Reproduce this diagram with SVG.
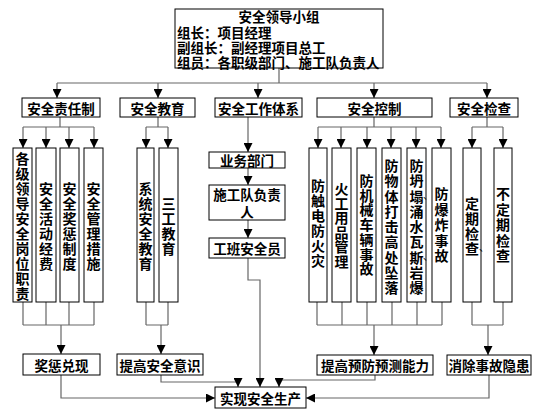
<svg xmlns="http://www.w3.org/2000/svg" width="554" height="419" viewBox="0 0 554 419">
<style>
.box{fill:#fff;stroke:#000;stroke-width:1}
.t{font-family:"Noto Sans CJK SC","Noto Sans CJK JP",sans-serif;font-size:13.5px;font-weight:bold;fill:#000}
.c{text-anchor:middle;dominant-baseline:central}
.v{font-family:"Noto Sans CJK SC","Noto Sans CJK JP",sans-serif;font-size:14px;font-weight:bold;fill:#000;text-anchor:middle;dominant-baseline:central}
.ln{fill:none;stroke:#666;stroke-width:1.2}
.p{font-family:"Noto Sans CJK SC",sans-serif;font-size:10px;fill:#000}
</style>
<defs>
<marker id="ah" markerUnits="userSpaceOnUse" markerWidth="9" markerHeight="9" refX="8" refY="4" orient="auto" viewBox="0 0 8 8">
<path d="M0,0 L8,4 L0,8 z" fill="#000"/>
</marker>
</defs>

<g id="connectors">
<path class="ln" d="M279,68 V83 M57,83 H487"/>
<path class="ln" marker-end="url(#ah)" d="M57,83 V98"/>
<path class="ln" marker-end="url(#ah)" d="M158,83 V98"/>
<path class="ln" marker-end="url(#ah)" d="M258,83 V98"/>
<path class="ln" marker-end="url(#ah)" d="M374,83 V98"/>
<path class="ln" marker-end="url(#ah)" d="M487,83 V98"/>

<path class="ln" d="M60,117 V127 M23,127 H94"/>
<path class="ln" marker-end="url(#ah)" d="M23,127 V148"/>
<path class="ln" marker-end="url(#ah)" d="M46,127 V148"/>
<path class="ln" marker-end="url(#ah)" d="M69,127 V148"/>
<path class="ln" marker-end="url(#ah)" d="M94,127 V148"/>
<path class="ln" d="M23,302 V325 M46,302 V325 M69,302 V325 M94,302 V325 M23,325 H94"/>
<path class="ln" marker-end="url(#ah)" d="M61,325 V354"/>
<path class="ln" marker-end="url(#ah)" d="M61,375 V398 H215"/>

<path class="ln" d="M158,117 V127 M146,127 H168"/>
<path class="ln" marker-end="url(#ah)" d="M146,127 V148"/>
<path class="ln" marker-end="url(#ah)" d="M168,127 V148"/>
<path class="ln" d="M146,302 V325 M168,302 V325 M146,325 H168"/>
<path class="ln" marker-end="url(#ah)" d="M161,325 V354"/>
<path class="ln" marker-end="url(#ah)" d="M161,375 V382 H238 V387"/>

<path class="ln" marker-end="url(#ah)" d="M248,117 V152"/>
<path class="ln" marker-end="url(#ah)" d="M248,168 V185"/>
<path class="ln" marker-end="url(#ah)" d="M248,220 V238"/>
<path class="ln" marker-end="url(#ah)" d="M248,258 V280 H260 V387"/>

<path class="ln" d="M374,117 V127 M318,127 H441"/>
<path class="ln" marker-end="url(#ah)" d="M318,127 V148"/>
<path class="ln" marker-end="url(#ah)" d="M341,127 V148"/>
<path class="ln" marker-end="url(#ah)" d="M367,127 V148"/>
<path class="ln" marker-end="url(#ah)" d="M391,127 V148"/>
<path class="ln" marker-end="url(#ah)" d="M416,127 V148"/>
<path class="ln" marker-end="url(#ah)" d="M441,127 V148"/>
<path class="ln" d="M317,302 V325 M342,302 V325 M367,302 V325 M392,302 V325 M417,302 V325 M442,302 V325 M317,325 H442"/>
<path class="ln" marker-end="url(#ah)" d="M374,325 V355"/>
<path class="ln" marker-end="url(#ah)" d="M375,375 V380 H279 V387"/>

<path class="ln" d="M487,117 V127 M472,127 H503"/>
<path class="ln" marker-end="url(#ah)" d="M472,127 V148"/>
<path class="ln" marker-end="url(#ah)" d="M503,127 V148"/>
<path class="ln" d="M472,302 V325 M503,302 V325 M472,325 H503"/>
<path class="ln" marker-end="url(#ah)" d="M488,325 V355"/>
<path class="ln" marker-end="url(#ah)" d="M489,375 V398 H306"/>
</g>

<g id="leader">
<rect class="box" x="175" y="9" width="208" height="59"/>
<text class="t c" x="279" y="16">安全领导小组</text>
<text class="t" x="177" y="32" dominant-baseline="central">组长：项目经理</text>
<text class="t" x="177" y="47" dominant-baseline="central">副组长：副经理项目总工</text>
<text class="t" x="177" y="62" dominant-baseline="central">组员：各职级部门、施工队负责人</text>
</g>

<g id="zerenzhi"><rect class="box" x="22" y="98" width="78" height="19"/><text class="t c" x="61" y="107.5">安全责任制</text></g>
<g id="jiaoyu"><rect class="box" x="120" y="98" width="75" height="19"/><text class="t c" x="157.5" y="107.5">安全教育</text></g>
<g id="tixi"><rect class="box" x="215" y="98" width="87" height="19"/><text class="t c" x="258.5" y="107.5">安全工作体系</text></g>
<g id="kongzhi"><rect class="box" x="317" y="98" width="115" height="19"/><text class="t c" x="374.5" y="107.5">安全控制</text></g>
<g id="jiancha"><rect class="box" x="450" y="98" width="68" height="19"/><text class="t c" x="484" y="107.5">安全检查</text></g>

<g id="v1"><rect class="box" x="13" y="148" width="19" height="154"/>
<text class="v"><tspan x="22.5" y="157.5">各</tspan><tspan x="22.5" y="172.5">级</tspan><tspan x="22.5" y="187.5">领</tspan><tspan x="22.5" y="202.5">导</tspan><tspan x="22.5" y="217.5">安</tspan><tspan x="22.5" y="232.5">全</tspan><tspan x="22.5" y="247.5">岗</tspan><tspan x="22.5" y="262.5">位</tspan><tspan x="22.5" y="277.5">职</tspan><tspan x="22.5" y="292.5">责</tspan></text></g>
<g id="v2"><rect class="box" x="36" y="148" width="20" height="154"/>
<text class="v"><tspan x="46" y="187.5">安</tspan><tspan x="46" y="202.5">全</tspan><tspan x="46" y="217.5">活</tspan><tspan x="46" y="232.5">动</tspan><tspan x="46" y="247.5">经</tspan><tspan x="46" y="262.5">费</tspan></text></g>
<g id="v3"><rect class="box" x="60" y="148" width="19" height="154"/>
<text class="v"><tspan x="69.5" y="187.5">安</tspan><tspan x="69.5" y="202.5">全</tspan><tspan x="69.5" y="217.5">奖</tspan><tspan x="69.5" y="232.5">惩</tspan><tspan x="69.5" y="247.5">制</tspan><tspan x="69.5" y="262.5">度</tspan></text></g>
<g id="v4"><rect class="box" x="84" y="148" width="19" height="154"/>
<text class="v"><tspan x="93.5" y="187.5">安</tspan><tspan x="93.5" y="202.5">全</tspan><tspan x="93.5" y="217.5">管</tspan><tspan x="93.5" y="232.5">理</tspan><tspan x="93.5" y="247.5">措</tspan><tspan x="93.5" y="262.5">施</tspan></text></g>
<g id="v5"><rect class="box" x="137" y="148" width="17" height="154"/>
<text class="v"><tspan x="145.5" y="187.5">系</tspan><tspan x="145.5" y="202.5">统</tspan><tspan x="145.5" y="217.5">安</tspan><tspan x="145.5" y="232.5">全</tspan><tspan x="145.5" y="247.5">教</tspan><tspan x="145.5" y="262.5">育</tspan></text></g>
<g id="v6"><rect class="box" x="159" y="148" width="19" height="154"/>
<text class="v"><tspan x="168.5" y="202.5">三</tspan><tspan x="168.5" y="217.5">工</tspan><tspan x="168.5" y="232.5">教</tspan><tspan x="168.5" y="247.5">育</tspan></text></g>

<g id="yewu"><rect class="box" x="209" y="152" width="76" height="16"/><text class="t c" x="247" y="160">业务部门</text></g>
<g id="shigongdui"><rect class="box" x="209" y="185" width="76" height="35"/><text class="t c" x="247" y="194">施工队负责</text><text class="t c" x="247" y="211">人</text></g>
<g id="gongban"><rect class="box" x="209" y="238" width="76" height="20"/><text class="t c" x="247" y="248">工班安全员</text></g>

<g id="c1"><rect class="box" x="309" y="148" width="18" height="154"/>
<text class="v"><tspan x="318" y="185">防</tspan><tspan x="318" y="200">触</tspan><tspan x="318" y="215">电</tspan><tspan x="318" y="230">防</tspan><tspan x="318" y="245">火</tspan><tspan x="318" y="260">灾</tspan></text></g>
<g id="c2"><rect class="box" x="332" y="148" width="19" height="154"/>
<text class="v"><tspan x="341.5" y="188">火</tspan><tspan x="341.5" y="202.5">工</tspan><tspan x="341.5" y="217">用</tspan><tspan x="341.5" y="231.5">品</tspan><tspan x="341.5" y="246">管</tspan><tspan x="341.5" y="260.5">理</tspan></text></g>
<g id="c3"><rect class="box" x="357" y="148" width="19" height="154"/>
<text class="v"><tspan x="366.5" y="180">防</tspan><tspan x="366.5" y="194.7">机</tspan><tspan x="366.5" y="209.4">械</tspan><tspan x="366.5" y="224.1">车</tspan><tspan x="366.5" y="238.8">辆</tspan><tspan x="366.5" y="253.5">事</tspan><tspan x="366.5" y="268.2">故</tspan></text></g>
<g id="c4"><rect class="box" x="382" y="148" width="19" height="154"/>
<text class="v"><tspan x="391.5" y="165">防</tspan><tspan x="391.5" y="180.2">物</tspan><tspan x="391.5" y="195.5">体</tspan><tspan x="391.5" y="210.7">打</tspan><tspan x="391.5" y="226">击</tspan><tspan x="391.5" y="241.2">高</tspan><tspan x="391.5" y="256.5">处</tspan><tspan x="391.5" y="271.7">坠</tspan><tspan x="391.5" y="287">落</tspan></text></g>
<g id="c5"><rect class="box" x="407" y="148" width="19" height="154"/>
<text class="v"><tspan x="416.5" y="165">防</tspan><tspan x="416.5" y="180.2">坍</tspan><tspan x="416.5" y="195.5">塌</tspan><tspan x="416.5" y="210.7">涌</tspan><tspan x="416.5" y="226">水</tspan><tspan x="416.5" y="241.2">瓦</tspan><tspan x="416.5" y="256.5">斯</tspan><tspan x="416.5" y="271.7">岩</tspan><tspan x="416.5" y="287">爆</tspan></text>
<text class="p" x="423" y="199">、</text><text class="p" x="423" y="260">、</text></g>
<g id="c6"><rect class="box" x="432" y="148" width="19" height="154"/>
<text class="v"><tspan x="441.5" y="193">防</tspan><tspan x="441.5" y="208.5">爆</tspan><tspan x="441.5" y="224">炸</tspan><tspan x="441.5" y="239.5">事</tspan><tspan x="441.5" y="255">故</tspan></text></g>
<g id="k1"><rect class="box" x="463" y="148" width="18" height="154"/>
<text class="v"><tspan x="472" y="202.5">定</tspan><tspan x="472" y="217.5">期</tspan><tspan x="472" y="232.5">检</tspan><tspan x="472" y="247.5">查</tspan></text>
<text class="p" x="479" y="251">、</text></g>
<g id="k2"><rect class="box" x="494" y="148" width="18" height="154"/>
<text class="v"><tspan x="503" y="193">不</tspan><tspan x="503" y="208.5">定</tspan><tspan x="503" y="224">期</tspan><tspan x="503" y="239.5">检</tspan><tspan x="503" y="255">查</tspan></text></g>

<g id="jiangcheng"><rect class="box" x="23" y="354" width="77" height="21"/><text class="t c" x="61.5" y="364.5">奖惩兑现</text></g>
<g id="yishi"><rect class="box" x="117" y="354" width="86" height="21"/><text class="t c" x="160" y="364.5">提高安全意识</text></g>
<g id="yuce"><rect class="box" x="317" y="355" width="116" height="20"/><text class="t c" x="375" y="365">提高预防预测能力</text></g>
<g id="yinhuan"><rect class="box" x="447" y="355" width="84" height="20"/><text class="t c" x="489" y="365">消除事故隐患</text></g>
<g id="shixian"><rect class="box" x="215" y="387" width="91" height="21"/><text class="t c" x="260.5" y="397.5">实现安全生产</text></g>
</svg>
